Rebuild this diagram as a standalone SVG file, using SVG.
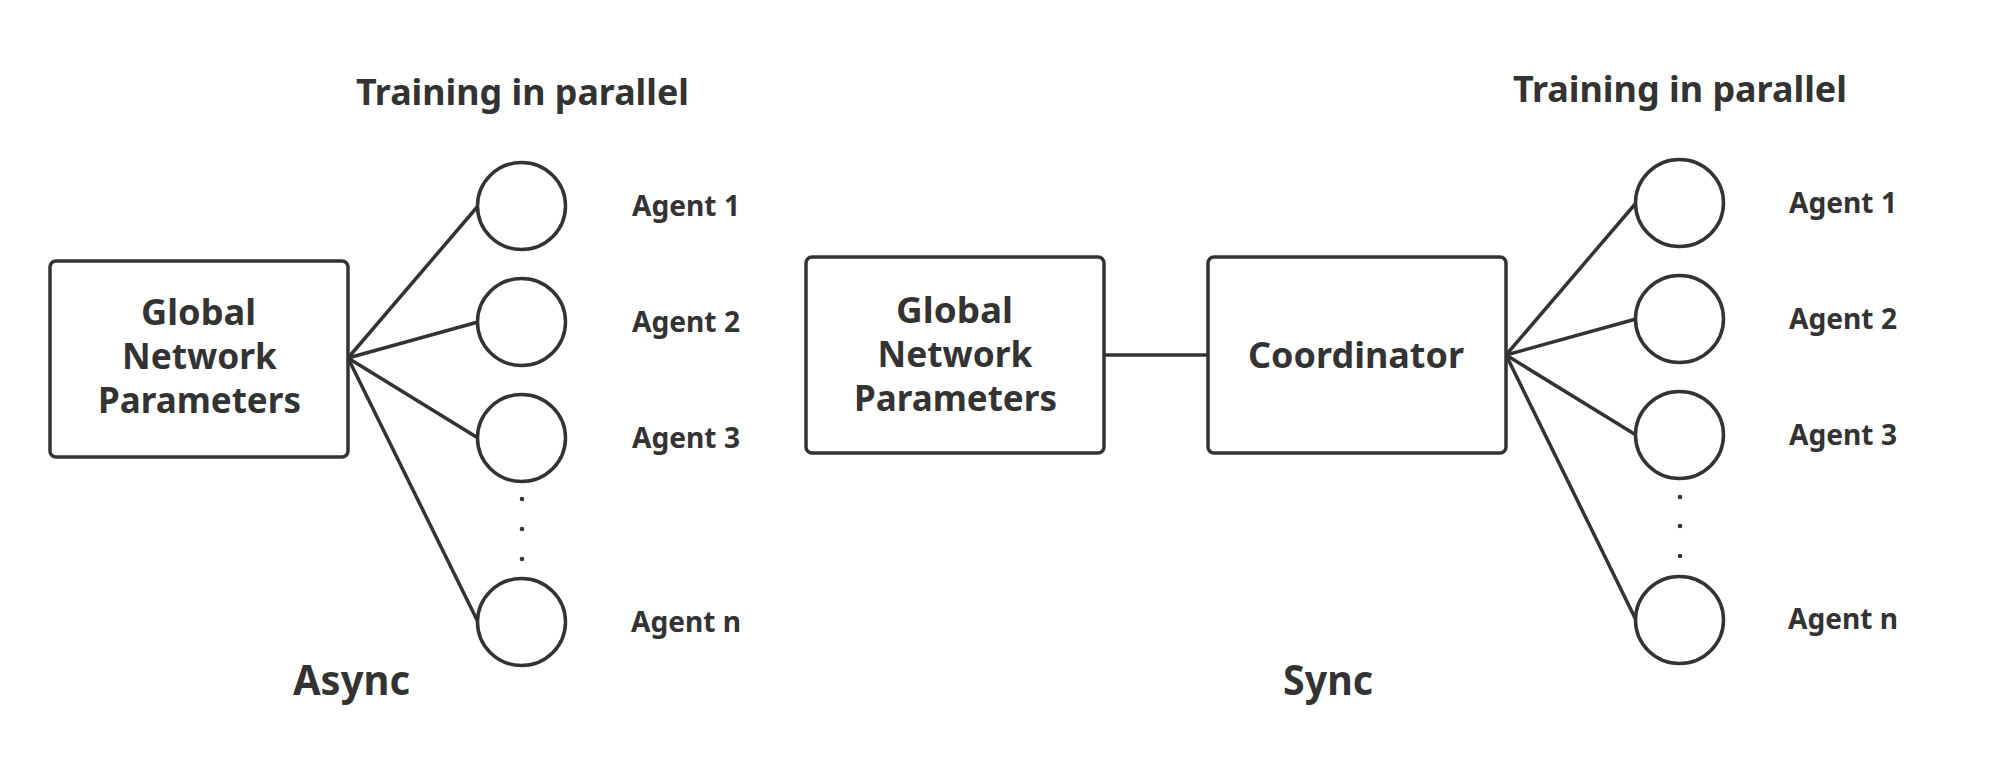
<svg xmlns="http://www.w3.org/2000/svg" width="2013" height="770" viewBox="0 0 2013 770">
<style>
.box{fill:#fff;stroke:#333;stroke-width:3.5}
.ag{fill:#fff;stroke:#333;stroke-width:3.5}
.ln{stroke:#333;stroke-width:3.5;fill:none}
.dot{fill:#333}
text{font-family:"Noto Sans","Open Sans","Liberation Sans",sans-serif;font-weight:bold;fill:#333}
.t1{font-size:36px}
.t2{font-size:35px}
.t3{font-size:28px}
.t4{font-size:41px}
</style>
<rect width="2013" height="770" fill="#fff"/>
<g id="connectors">
<line class="ln" x1="348" y1="358" x2="478" y2="206"/>
<line class="ln" x1="348" y1="358" x2="478" y2="322"/>
<line class="ln" x1="348" y1="358" x2="478" y2="438"/>
<line class="ln" x1="348" y1="358" x2="478" y2="622"/>
<line class="ln" x1="1104" y1="355" x2="1208" y2="355"/>
<line class="ln" x1="1506" y1="355" x2="1636" y2="203"/>
<line class="ln" x1="1506" y1="355" x2="1636" y2="319"/>
<line class="ln" x1="1506" y1="355" x2="1636" y2="435"/>
<line class="ln" x1="1506" y1="355" x2="1636" y2="620"/>
</g>
<g id="title-left"><text class="t1" x="356" y="105" textLength="333" lengthAdjust="spacingAndGlyphs">Training in parallel</text></g>
<g id="title-right"><text class="t1" x="1513" y="102" textLength="334" lengthAdjust="spacingAndGlyphs">Training in parallel</text></g>
<g id="gnp-left">
<rect class="box" x="50" y="261" width="298" height="196" rx="6"/>
<text class="t2" x="141" y="325" textLength="115" lengthAdjust="spacingAndGlyphs">Global</text>
<text class="t2" x="122" y="369" textLength="155" lengthAdjust="spacingAndGlyphs">Network</text>
<text class="t2" x="98" y="413" textLength="203" lengthAdjust="spacingAndGlyphs">Parameters</text>
</g>
<g id="agent1-left"><ellipse class="ag" cx="521.5" cy="206" rx="44" ry="43.5"/><text class="t3" x="632" y="216" textLength="108" lengthAdjust="spacingAndGlyphs">Agent 1</text></g>
<g id="agent2-left"><ellipse class="ag" cx="521.5" cy="322" rx="44" ry="43.5"/><text class="t3" x="632" y="332" textLength="108" lengthAdjust="spacingAndGlyphs">Agent 2</text></g>
<g id="agent3-left"><ellipse class="ag" cx="521.5" cy="438" rx="44" ry="43.5"/><text class="t3" x="632" y="448" textLength="108" lengthAdjust="spacingAndGlyphs">Agent 3</text></g>
<g id="dots-left"><circle class="dot" cx="522" cy="499" r="2.3"/><circle class="dot" cx="522" cy="529" r="2.3"/><circle class="dot" cx="522" cy="559" r="2.3"/></g>
<g id="agentn-left"><ellipse class="ag" cx="521.5" cy="622" rx="44" ry="43.5"/><text class="t3" x="631" y="632" textLength="110" lengthAdjust="spacingAndGlyphs">Agent n</text></g>
<g id="label-async"><text class="t4" x="293" y="695" textLength="117" lengthAdjust="spacingAndGlyphs">Async</text></g>
<g id="gnp-right">
<rect class="box" x="806" y="257" width="298" height="196" rx="6"/>
<text class="t2" x="896" y="323" textLength="117" lengthAdjust="spacingAndGlyphs">Global</text>
<text class="t2" x="877.5" y="367" textLength="155" lengthAdjust="spacingAndGlyphs">Network</text>
<text class="t2" x="854" y="411" textLength="203" lengthAdjust="spacingAndGlyphs">Parameters</text>
</g>
<g id="coordinator">
<rect class="box" x="1208" y="257" width="298" height="196" rx="6"/>
<text class="t2" x="1248" y="368" textLength="216" lengthAdjust="spacingAndGlyphs">Coordinator</text>
</g>
<g id="agent1-right"><ellipse class="ag" cx="1679.5" cy="203" rx="44" ry="43.5"/><text class="t3" x="1789" y="213" textLength="108" lengthAdjust="spacingAndGlyphs">Agent 1</text></g>
<g id="agent2-right"><ellipse class="ag" cx="1679.5" cy="319" rx="44" ry="43.5"/><text class="t3" x="1789" y="329" textLength="108" lengthAdjust="spacingAndGlyphs">Agent 2</text></g>
<g id="agent3-right"><ellipse class="ag" cx="1679.5" cy="435" rx="44" ry="43.5"/><text class="t3" x="1789" y="445" textLength="108" lengthAdjust="spacingAndGlyphs">Agent 3</text></g>
<g id="dots-right"><circle class="dot" cx="1680" cy="497" r="2.3"/><circle class="dot" cx="1680" cy="526" r="2.3"/><circle class="dot" cx="1680" cy="556" r="2.3"/></g>
<g id="agentn-right"><ellipse class="ag" cx="1679.5" cy="620" rx="44" ry="43.5"/><text class="t3" x="1788" y="629" textLength="110" lengthAdjust="spacingAndGlyphs">Agent n</text></g>
<g id="label-sync"><text class="t4" x="1283" y="695" textLength="90" lengthAdjust="spacingAndGlyphs">Sync</text></g>
</svg>
